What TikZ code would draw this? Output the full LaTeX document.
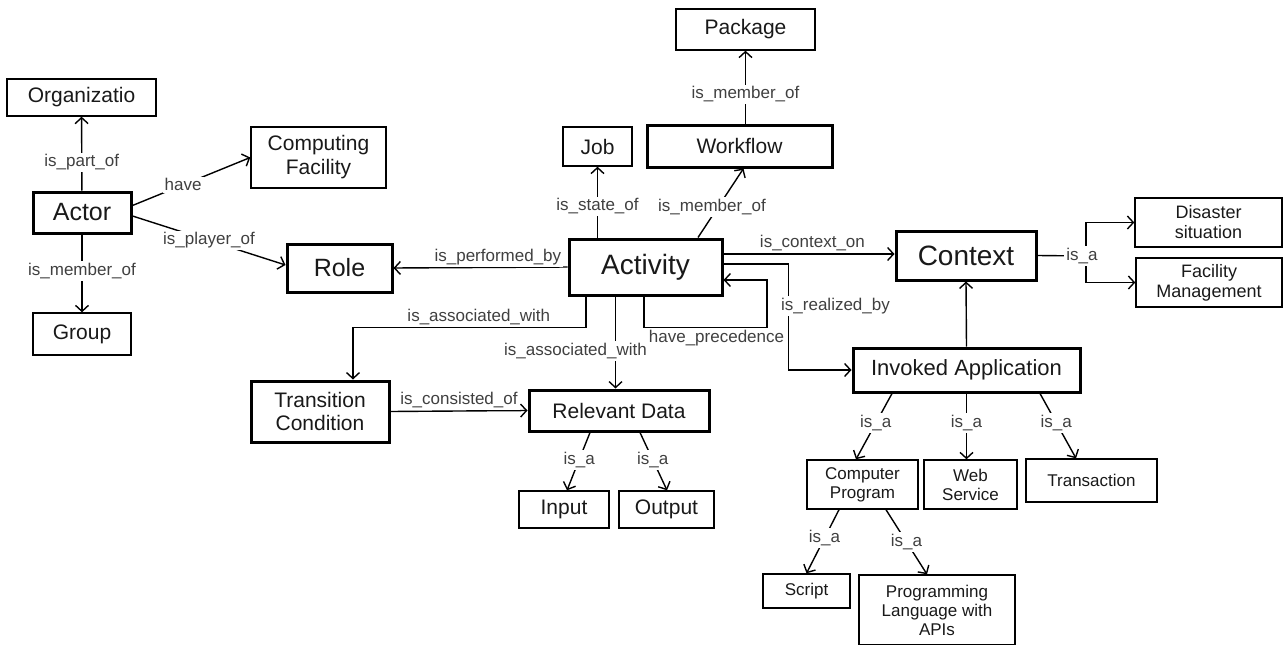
\documentclass[tikz,border=0pt]{standalone}
\usepackage{fontspec}
\setmainfont{Liberation Sans}
\usepackage{tikz}
\usetikzlibrary{arrows.meta}

\newcommand{\fsz}[2]{\fontsize{#1}{#2}\selectfont}

\begin{document}
\begin{tikzpicture}[x=1pt,y=-1pt,
  thinbox/.style={draw, line width=1.4pt, inner sep=0pt, align=center},
  thickbox/.style={draw, line width=3pt, inner sep=0pt, align=center},
  arr/.style={-{Straight Barb[length=6pt,width=13pt]}, line width=1.4pt},
  lbl/.style={fill=white, inner sep=2pt, text=black!75, font=\fsz{17}{19}},
  every node/.style={font=\fsz{21}{24}, text=black!90}]
			\useasboundingbox (0,0) rectangle (1283,645);
			\node[thinbox, minimum width=149pt, minimum height=37pt] (org) at (81.5,97.5) {Organizatio};
			\node[thinbox, minimum width=135pt, minimum height=61pt] (comp) at (318.5,157.5) {Computing\\Facility};
			\node[thickbox, minimum width=98pt, minimum height=41pt, font=\fsz{25}{28}] (actor) at (82,212.5) {Actor};
			\node[thickbox, minimum width=105pt, minimum height=48pt, font=\fsz{25}{28}] (role) at (339.5,268) {Role};
			\node[thinbox, minimum width=98pt, minimum height=42pt] (group) at (82,334) {Group};
			\node[thinbox, minimum width=69pt, minimum height=39pt] (job) at (597.5,146.5) {Job};
			\node[thickbox, minimum width=185pt, minimum height=42pt] (workflow) at (739.5,146) {Workflow};
			\node[thinbox, minimum width=139pt, minimum height=41pt] (package) at (745.5,29.5) {Package};
			\node[thickbox, minimum width=153pt, minimum height=56pt, font=\fsz{28}{30}] (activity) at (645.5,267) {Activity};
			\node[thickbox, minimum width=140pt, minimum height=49pt, font=\fsz{28}{30}] (context) at (966,255.5) {Context};
			\node[thinbox, minimum width=147pt, minimum height=49pt, font=\fsz{18}{20}] (disaster) at (1208.5,222.5) {Disaster\\situation};
			\node[thinbox, minimum width=146pt, minimum height=49pt, font=\fsz{18}{20}] (facility) at (1209,282.5) {Facility\\Management};
			\node[thickbox, minimum width=227pt, minimum height=44pt, font=\fsz{22}{24}] (invoked) at (966.5,370) {Invoked Application};
			\node[thickbox, minimum width=138pt, minimum height=61pt, font=\fsz{21}{23}] (trans) at (320,411.5) {Transition\\Condition};
			\node[thickbox, minimum width=180pt, minimum height=41pt] (reldata) at (619,410.5) {Relevant Data};
			\node[thinbox, minimum width=90pt, minimum height=37pt] (input) at (564,509.5) {Input};
			\node[thinbox, minimum width=95pt, minimum height=37pt] (output) at (666.5,509.5) {Output};
			\node[thinbox, minimum width=111pt, minimum height=49pt, font=\fsz{17}{19}] (cprog) at (862.5,484.5) {Computer\\Program};
			\node[thinbox, minimum width=93pt, minimum height=49pt, font=\fsz{17}{19}] (web) at (970.5,484.5) {Web\\Service};
			\node[thinbox, minimum width=131pt, minimum height=43pt, font=\fsz{17}{19}] (transact) at (1091.5,480.5) {Transaction};
			\node[thinbox, minimum width=87pt, minimum height=34pt, font=\fsz{17}{19}] (script) at (806.5,591) {Script};
			\node[thinbox, minimum width=156pt, minimum height=70pt, font=\fsz{17}{19}] (plang) at (937,610) {Programming\\Language with\\APIs};
			\coordinate (isa) at (1086,256);
			\coordinate (ctxout) at ([yshift=13pt]activity.east);
			\draw[arr] (actor) -- node[lbl, pos=0.38] {is\_part\_of} (org);
			\draw[arr] ([yshift=7pt]actor.east) -- node[lbl, pos=0.43] {have} (comp.west);
			\draw[arr] ([yshift=-3.5pt]actor.east) -- node[lbl, pos=0.5] {is\_player\_of} ([yshift=3pt]role.west);
			\draw[arr] (actor) -- node[lbl, pos=0.47] {is\_member\_of} (group);
			\draw[arr] (activity.west) -- node[lbl, above, pos=0.4] {is\_performed\_by} (role.east);
			\draw[arr] (job.south |- activity.north) -- node[lbl, pos=0.44] {is\_state\_of} (job.south);
			\draw[arr] ([xshift=52.5pt]activity.north) -- node[lbl, pos=0.44, xshift=-6pt] {is\_member\_of} ([xshift=4pt]workflow.south);
			\draw[arr] (package.south |- workflow.north) -- node[lbl, pos=0.4] {is\_member\_of} (package.south);
			\draw[arr] (ctxout) -- node[lbl, above, pos=0.52] {is\_context\_on} (context.west |- ctxout);
			\draw[arr] ([xshift=-1.5pt]activity.south) -- ++(0,31) -- node[lbl, below, xshift=11pt] {have\_precedence} ++(123,0) |- ([yshift=-13pt]activity.east);
			\draw[arr] ([yshift=3pt]activity.east) -- ++(65,0) |- node[lbl, pos=0.2, anchor=west, xshift=-10pt] {is\_realized\_by} (invoked.west);
			\draw[arr] ([xshift=-59.5pt]activity.south) -- ++(0,31) -| node[lbl, above, pos=0.23] {is\_associated\_with} ([xshift=33pt]trans.north);
			\draw[arr] ([xshift=-30pt]activity.south) -- node[lbl, pos=0.59, xshift=-40pt] {is\_associated\_with} ([xshift=-3.5pt]reldata.north);
			\draw[arr] (trans.east) -- node[lbl, above, pos=0.5] {is\_consisted\_of} (reldata.west);
			\draw[arr] ([xshift=-29pt]reldata.south) -- node[lbl, pos=0.47] {is\_a} ([xshift=3pt]input.north);
			\draw[arr] ([xshift=21pt]reldata.south) -- node[lbl, pos=0.47] {is\_a} ([xshift=0.5pt]output.north);
			\draw[arr] (invoked.north) -- (context.south);
			\draw[line width=1.4pt] (context.east) -- (isa);
			\draw[arr] (isa) |- (disaster.west);
			\draw[arr] (isa) |- (facility.west);
			\node[lbl] at (1082,256) {is\_a};
			\draw[arr] ([xshift=-74.5pt]invoked.south) -- node[lbl, pos=0.45] {is\_a} ([xshift=-6.5pt]cprog.north);
			\draw[arr] (invoked.south) -- node[lbl, pos=0.45] {is\_a} (invoked.south |- web.north);
			\draw[arr] ([xshift=73.5pt]invoked.south) -- node[lbl, pos=0.45] {is\_a} ([xshift=-15.5pt]transact.north);
			\draw[arr] ([xshift=-23.5pt]cprog.south) -- node[lbl, pos=0.45] {is\_a} (script.north);
			\draw[arr] ([xshift=23.5pt]cprog.south) -- node[lbl, pos=0.5] {is\_a} ([xshift=-10pt]plang.north);
		\end{tikzpicture}
\end{document}
